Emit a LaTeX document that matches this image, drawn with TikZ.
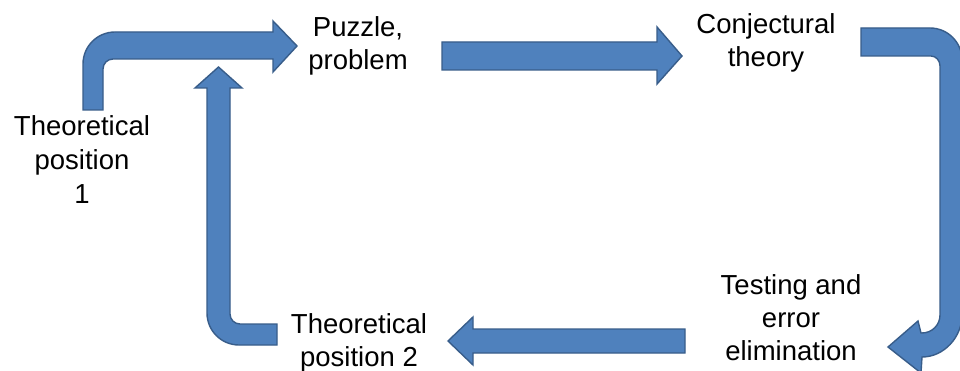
\documentclass[tikz,border=0pt]{standalone}
\usepackage{fontspec}
\setmainfont{Liberation Sans}
\definecolor{arrowfill}{HTML}{4F81BD}
\definecolor{arrowline}{HTML}{385D8A}
\tikzset{
  blockarrow/.style={fill=arrowfill, draw=arrowline, line width=1.4pt, line join=miter},
  label/.style={align=center, inner sep=0pt, anchor=base,
    font=\fontsize{27.5}{33}\selectfont, text=black}
}
\begin{document}
\begin{tikzpicture}[x=1pt, y=-1pt]
\useasboundingbox (0,0) rectangle (960,371);
\clip (0,0) rectangle (960,371);
\fill[white] (0,0) rectangle (960,371);

% labels, placed by the baseline of their last line
\node[label] (pos1) at (82,204) {Theoretical\\[1pt]position\\[1pt]1};
\node[label] (puzzle) at (358,70) {Puzzle,\\problem};
\node[label] (conj) at (766,67) {Conjectural\\theory};
\node[label] (test) at (791,360) {Testing and\\error\\elimination};
\node[label] (pos2) at (359,366) {Theoretical\\position 2};

% bent arrow: position 1 up and right to the puzzle
\path[blockarrow] (83,110) -- (83,64)
  .. controls (83,46.3) and (97.3,32) .. (115,32)
  -- (273,32) -- (273,21) -- (297,46) -- (273,72) -- (273,59)
  -- (113,59) .. controls (107.5,59) and (103,63.5) .. (103,69)
  -- (103,110) -- cycle;

% straight arrow: puzzle to conjectural theory
\path[blockarrow] (442,42) -- (657,42) -- (657,27) -- (682,56)
  -- (657,84) -- (657,70) -- (442,70) -- cycle;

% hooked arrow: conjectural theory down to testing
\path[blockarrow] (861,28) -- (930,28)
  .. controls (947.7,28) and (962,42.3) .. (962,60)
  -- (962,315) .. controls (962,337) and (944,357) .. (922,357)
  -- (921,373) -- (888,347) -- (918,321) -- (921,333) -- (922,333)
  .. controls (932,333) and (940,325) .. (940,315)
  -- (940,66) .. controls (940,60.5) and (936,56) .. (931,56)
  -- (861,56) -- cycle;

% straight arrow: testing back to position 2
\path[blockarrow] (685,329) -- (473,329) -- (473,317) -- (448,341)
  -- (473,365) -- (473,353) -- (685,353) -- cycle;

% bent arrow: position 2 left and up to the puzzle
\path[blockarrow] (277,324) -- (240,324)
  .. controls (234.5,324) and (230,319.5) .. (230,314)
  -- (230,88) -- (242,88) -- (218.5,67) -- (195,88) -- (207,88)
  -- (207,313) .. controls (207,330.7) and (221.3,345) .. (239,345)
  -- (277,345) -- cycle;
\end{tikzpicture}
\end{document}
